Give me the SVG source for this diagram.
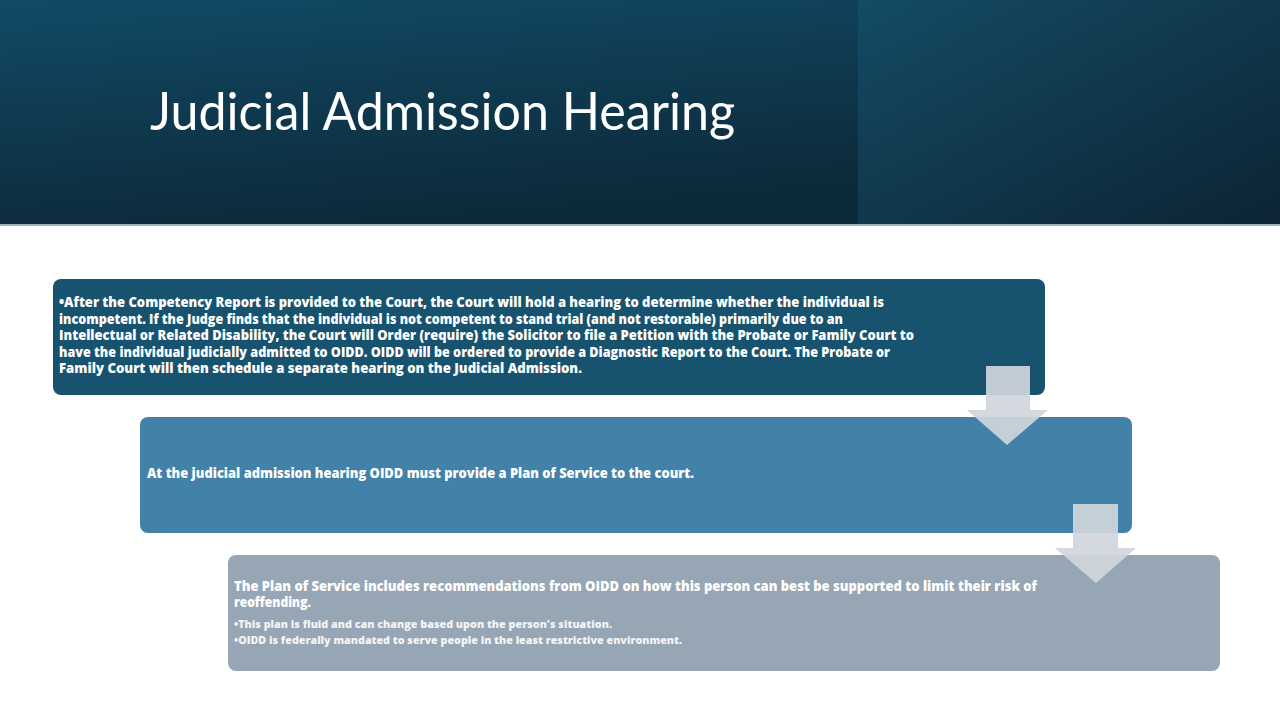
<svg xmlns="http://www.w3.org/2000/svg" width="1280" height="720" viewBox="0 0 1280 720">
<style>
.t{font-family:"Open Sans","Liberation Sans",sans-serif;font-weight:800;font-size:13.5px;fill:#ffffff}
.s{font-family:"Open Sans","Liberation Sans",sans-serif;font-weight:800;font-size:11px;fill:#f2f4f6}
.title{font-family:Lato,"Liberation Sans",sans-serif;font-size:53px;fill:#ffffff}
.arrow{fill:#d0d6dc;opacity:0.92}
</style>
<defs>
<linearGradient id="hL" x1="0" y1="0" x2="0.3" y2="1">
<stop offset="0" stop-color="#114a66"/>
<stop offset="1" stop-color="#0d2a3a"/>
</linearGradient>
<linearGradient id="hR" x1="0" y1="0" x2="1" y2="1">
<stop offset="0" stop-color="#144b65"/>
<stop offset="1" stop-color="#0c2433"/>
</linearGradient>
</defs>
<rect width="1280" height="720" fill="#ffffff"/>
<g id="header">
<rect x="0" y="0" width="858" height="225" fill="url(#hL)"/>
<rect x="858" y="0" width="422" height="225" fill="url(#hR)"/>
<rect x="0" y="224" width="1280" height="2" fill="#9fb3bf"/>
<text class="title" x="150" y="130" textLength="585" lengthAdjust="spacingAndGlyphs">Judicial Admission Hearing</text>
</g>
<g id="node1">
<rect x="53" y="279" width="992" height="116" rx="8" fill="#17536f"/>
<text class="t" x="59" y="307" textLength="825" lengthAdjust="spacingAndGlyphs">•After the Competency Report is provided to the Court, the Court will hold a hearing to determine whether the individual is</text>
<text class="t" x="59" y="324" textLength="784" lengthAdjust="spacingAndGlyphs">incompetent. If the Judge finds that the individual is not competent to stand trial (and not restorable) primarily due to an</text>
<text class="t" x="59" y="340" textLength="855" lengthAdjust="spacingAndGlyphs">Intellectual or Related Disability, the Court will Order (require) the Solicitor to file a Petition with the Probate or Family Court to</text>
<text class="t" x="59" y="357" textLength="831" lengthAdjust="spacingAndGlyphs">have the individual judicially admitted to OIDD. OIDD will be ordered to provide a Diagnostic Report to the Court. The Probate or</text>
<text class="t" x="59" y="373" textLength="523" lengthAdjust="spacingAndGlyphs">Family Court will then schedule a separate hearing on the Judicial Admission.</text>
</g>
<g id="node2">
<rect x="140" y="417" width="992" height="116" rx="8" fill="#4282a9"/>
<text class="t" x="147" y="478" textLength="547" lengthAdjust="spacingAndGlyphs">At the judicial admission hearing OIDD must provide a  Plan of Service to the court.</text>
</g>
<g id="node3">
<rect x="228" y="555" width="992" height="116" rx="8" fill="#97a6b4"/>
<text class="t" x="234" y="591" textLength="803" lengthAdjust="spacingAndGlyphs">The Plan of Service includes recommendations from OIDD on how this person can best be supported to limit their risk of</text>
<text class="t" x="234" y="607" textLength="77" lengthAdjust="spacingAndGlyphs">reoffending.</text>
<text class="s" x="234" y="628" textLength="378" lengthAdjust="spacingAndGlyphs">•This plan is fluid and can change based upon the person's situation.</text>
<text class="s" x="234" y="644" textLength="448" lengthAdjust="spacingAndGlyphs">•OIDD is federally mandated to serve people in the least restrictive environment.</text>
</g>
<g id="connectors">
<polygon class="arrow" points="986,366 1030,366 1030,410 1048,410 1007,445 967,410 986,410"/>
<polygon class="arrow" points="1073,504 1118,504 1118,548 1136,548 1096,583 1055,548 1073,548"/>
</g>
</svg>
